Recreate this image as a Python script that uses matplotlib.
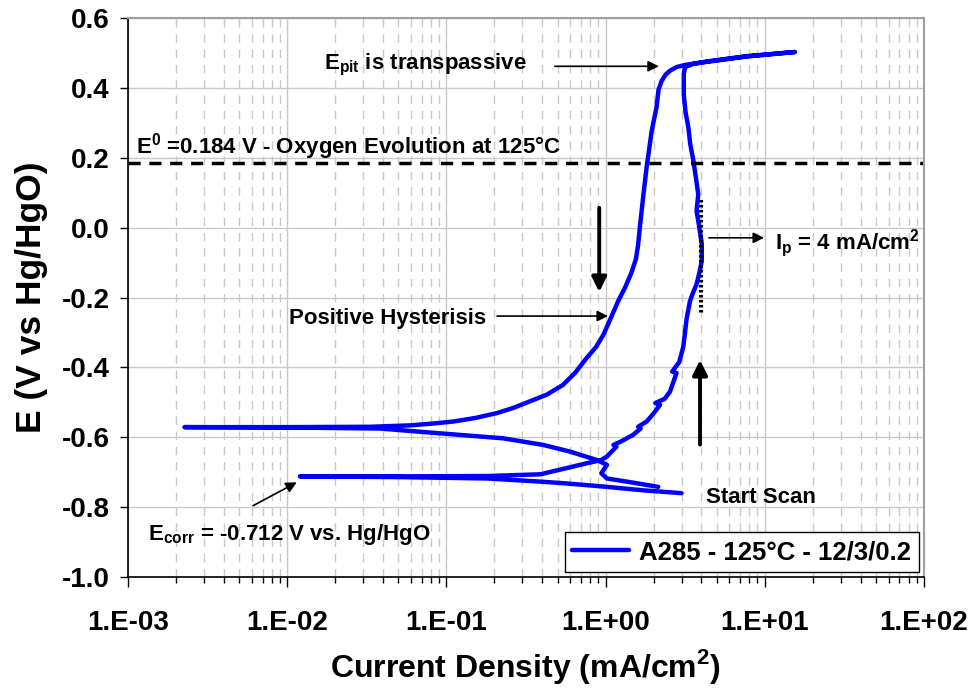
import numpy as np
import matplotlib.pyplot as plt
from matplotlib.ticker import FixedLocator, FuncFormatter, LogLocator, NullFormatter

plt.rcParams['font.family'] = 'Liberation Sans'
plt.rcParams['font.weight'] = 'bold'
plt.rcParams['mathtext.fontset'] = 'custom'
plt.rcParams['mathtext.rm'] = 'Liberation Sans:bold'
plt.rcParams['mathtext.bf'] = 'Liberation Sans:bold'
plt.rcParams['axes.unicode_minus'] = False

# Cyclic polarization scan, current density in mA/cm2, potential in V vs Hg/HgO
# forward cathodic branch: start of scan down to Ecorr
fwd_cath_i = [3.00, 1.73, 1.02, 0.56, 0.39, 0.18, 0.05, 0.012]
fwd_cath_e = [-0.760, -0.752, -0.742, -0.732, -0.727, -0.718, -0.714, -0.712]

# forward anodic branch: Ecorr up to the vertex
fwd_anod_i = [0.012, 0.05, 0.18, 0.39, 0.56, 0.69, 0.94, 1.02, 1.17, 1.12, 1.25,
              1.49, 1.66, 1.60, 1.81, 2.00, 2.20, 2.05, 2.35, 2.54, 2.79, 2.62,
              2.90, 3.08, 3.23, 3.39, 3.55, 3.73, 3.90, 4.02, 4.02, 3.85, 3.73,
              3.82, 3.70, 3.56, 3.40, 3.31, 3.18, 3.10, 3.10, 3.16, 3.60, 4.53,
              7.69, 15.5]
fwd_anod_e = [-0.712, -0.712, -0.711, -0.706, -0.689, -0.679, -0.665, -0.655, -0.627, -0.622, -0.612,
              -0.593, -0.575, -0.570, -0.555, -0.532, -0.507, -0.502, -0.490, -0.469, -0.416, -0.412,
              -0.385, -0.340, -0.260, -0.210, -0.185, -0.162, -0.125, -0.095, -0.047, 0.010, 0.048,
              0.096, 0.140, 0.192, 0.240, 0.288, 0.330, 0.380, 0.440, 0.460, 0.470, 0.477,
              0.491, 0.503]

# reverse scan: vertex back down to the end of scan
rev_i = [15.5, 7.69, 4.53, 3.16, 2.80, 2.55, 2.38, 2.25, 2.15, 2.09, 1.95, 1.81,
         1.73, 1.64, 1.60, 1.55, 1.45, 1.33, 1.20, 1.08, 0.97, 0.87, 0.76, 0.645,
         0.54, 0.427, 0.335, 0.263, 0.207, 0.151, 0.110, 0.081, 0.059, 0.033, 0.010,
         0.00226, 0.010, 0.038, 0.087, 0.227, 0.406, 0.597, 0.69, 0.88, 1.02,
         0.94, 1.02, 1.36, 2.14]
rev_e = [0.503, 0.490, 0.476, 0.466, 0.460, 0.450, 0.438, 0.420, 0.395, 0.345, 0.278, 0.173,
         0.096, 0.000, -0.050, -0.090, -0.130, -0.170, -0.210, -0.258, -0.306, -0.342, -0.373, -0.415,
         -0.450, -0.478, -0.497, -0.516, -0.531, -0.545, -0.555, -0.561, -0.566, -0.570, -0.571,
         -0.571, -0.572, -0.575, -0.588, -0.603, -0.622, -0.641, -0.650, -0.665, -0.679,
         -0.703, -0.718, -0.727, -0.742]

E0 = 0.184       # oxygen evolution potential at 125C
ECORR = -0.712
IP = 4.0         # passive current density
IP_RANGE = [0.08, -0.25]

scan_i = fwd_cath_i + fwd_anod_i[1:] + rev_i[1:]
scan_e = fwd_cath_e + fwd_anod_e[1:] + rev_e[1:]

fig = plt.figure(figsize=(9.73, 6.96), dpi=100)
ax = fig.add_axes([0.1316, 0.171, 0.818, 0.803])

ax.set_xscale('log')
ax.set_xlim(1e-3, 1e2)
ax.set_ylim(-1.0, 0.6)

# grid: solid at decades and y majors, dashed at minor decades
ax.xaxis.set_major_locator(LogLocator(base=10, numticks=10))
ax.xaxis.set_minor_locator(LogLocator(base=10, subs=np.arange(2, 10), numticks=20))
ax.yaxis.set_major_locator(FixedLocator(np.arange(-1.0, 0.61, 0.2)))
ax.grid(True, which='major', color='#c8c8c8', lw=1.0, ls='-')
ax.grid(True, which='minor', axis='x', color='#c8c8c8', lw=1.0, ls=(0, (6, 5)))
ax.set_axisbelow(True)

ax.xaxis.set_major_formatter(FuncFormatter(lambda v, p: "1.E%+03d" % int(round(np.log10(v)))))
ax.xaxis.set_minor_formatter(NullFormatter())
ax.yaxis.set_major_formatter(FuncFormatter(lambda v, p: "%.1f" % (round(v, 1) + 0.0)))

ax.tick_params(axis='x', which='major', direction='out', length=7, width=1, pad=17, labelsize=20)
ax.tick_params(axis='x', which='minor', direction='out', length=4, width=1)
ax.tick_params(axis='y', which='major', direction='out', length=6, width=1, pad=7, labelsize=20)
for lab in ax.get_xticklabels() + ax.get_yticklabels():
    lab.set_fontweight('bold')

for s in ['left', 'bottom']:
    ax.spines[s].set_color('black')
    ax.spines[s].set_linewidth(1.2)
for s in ['top', 'right']:
    ax.spines[s].set_color('#a0a0a0')
    ax.spines[s].set_linewidth(1.5)

ax.set_xlabel('Current Density (mA/cm$^{\\mathbf{2}}$)', fontsize=23, fontweight='bold', labelpad=8)
ax.set_ylabel('E (V vs Hg/HgO)', fontsize=25.5, fontweight='bold', labelpad=10)

ax.plot(scan_i, scan_e, color='#0000ff', lw=3.2, solid_capstyle='round', solid_joinstyle='round',
        label='A285 - 125°C - 12/3/0.2')

# oxygen evolution line and passive current marker
ax.axhline(E0, color='black', lw=2.5, ls=(0, (3.5, 2.5)))
ax.plot([IP, IP], IP_RANGE, color='black', lw=3, ls=(0, (0.6, 0.6)))

thin = dict(arrowstyle='-|>', color='black', lw=1.2, mutation_scale=16, shrinkA=0, shrinkB=0)
thick = dict(arrowstyle='-|>', color='black', lw=2.8, mutation_scale=22, shrinkA=0, shrinkB=0)

ax.annotate('', xy=(2.16, 0.462), xytext=(0.48, 0.462), arrowprops=thin)
ax.annotate('', xy=(1.035, -0.253), xytext=(0.208, -0.253), arrowprops=thin)
ax.annotate('', xy=(9.89, -0.029), xytext=(4.46, -0.029), arrowprops=thin)
ax.annotate('', xy=(0.01148, -0.729), xytext=(0.0061, -0.796), arrowprops=thin)
ax.annotate('', xy=(0.912, -0.184), xytext=(0.912, 0.057), arrowprops=thick)
ax.annotate('', xy=(3.92, -0.379), xytext=(3.92, -0.621), arrowprops=thick)

tkw = dict(fontsize=16, fontweight='bold', ha='left', va='center')
ax.text(0.0170, 0.465, 'E$_{\\mathbf{pit}}$ is transpassive', **tkw)
ax.text(0.00112, 0.232, 'E$^{\\mathbf{0}}$ =0.184 V - Oxygen Evolution at 125°C', **tkw)
ax.text(0.01026, -0.261, 'Positive Hysterisis', **tkw)
ax.text(11.6, -0.044, 'I$_{\\mathbf{p}}$ = 4 mA/cm$^{\\mathbf{2}}$', **tkw)
ax.text(4.26, -0.773, 'Start Scan', **tkw)
ax.text(0.001336, -0.879, 'E$_{\\mathbf{corr}}$ = -0.712 V vs. Hg/HgO', **tkw)

leg = ax.legend(loc='lower right', frameon=True, fancybox=False, framealpha=1,
                edgecolor='black', borderaxespad=0.2, handlelength=2.2, borderpad=0.3,
                handletextpad=0.4, prop={'weight': 'bold', 'size': 18.5})
leg.get_frame().set_linewidth(1.0)

fig.savefig('out.png', dpi=100)
